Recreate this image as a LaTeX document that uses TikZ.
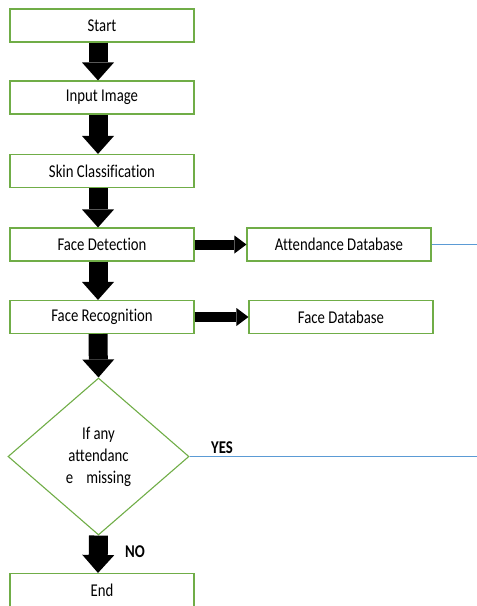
\documentclass[tikz,border=0pt]{standalone}
\usepackage{fontspec}
\setmainfont[FakeStretch=0.82,Ligatures=CommonOff]{Carlito}
\usetikzlibrary{arrows.meta,shapes.geometric}
\definecolor{boxgreen}{RGB}{112,173,71}
\definecolor{lineblue}{RGB}{91,155,213}

\begin{document}
\begin{tikzpicture}[x=1pt,y=-1pt,
    every node/.style={font=\fontsize{18}{22}\selectfont},
    stepbox/.style={draw=boxgreen,line width=1.1pt,minimum width=184pt,
                    minimum height=33pt,inner sep=0pt},
    decision/.style={diamond,draw=boxgreen,line width=1.1pt,minimum width=181pt,
                     minimum height=157pt,aspect=1.15,inner sep=0pt,align=center},
    tag/.style={font=\fontsize{18}{22}\selectfont\bfseries},
    bigarrow/.style={line width=19pt,-{Triangle[width=32pt,length=18pt,line width=0pt]}},
    sidearrow/.style={line width=10pt,-{Triangle[width=18pt,length=12pt,line width=0pt]}},
    link/.style={draw=lineblue,line width=0.9pt}]

\useasboundingbox (0,0) rectangle (477,606);

% main column
\node[stepbox] (start)  at (102,25.5)  {Start};
\node[stepbox] (input)  at (102,97.5)  {Input Image};
\node[stepbox] (skin)   at (102,171)   {Skin Classification};
\node[stepbox] (detect) at (102,244.5) {Face Detection};
\node[stepbox] (recog)  at (102,317)   {Face Recognition};
\node[decision] (check) at (98.5,456.5) {If any\\attendanc\\e\hspace{13pt}missing};
\node[stepbox] (end)    at (102,590)   {End};

% databases
\node[stepbox] (attdb)  at (339,244.5) {Attendance Database};
\node[stepbox] (facedb) at (341,317)   {Face Database};

\coordinate (edgeA) at (477,245);
\coordinate (edgeB) at (477,457);

\draw[bigarrow] ([xshift=-4pt]start.south)  -- ([xshift=-4pt]input.north);
\draw[bigarrow] ([xshift=-4pt]input.south)  -- ([xshift=-4pt]skin.north);
\draw[bigarrow] ([xshift=-4pt]skin.south)   -- ([xshift=-4pt]detect.north);
\draw[bigarrow] ([xshift=-4pt]detect.south) -- ([xshift=-4pt]recog.north);
\draw[bigarrow] ([xshift=-4pt]recog.south)  -- (check.north);
\draw[bigarrow] (check.south) -- ([xshift=-4pt]end.north);

\draw[sidearrow] (detect.east) -- (attdb.west);
\draw[sidearrow] (recog.east)  -- (facedb.west);

\draw[link] (attdb.east) -- (attdb.east -| edgeA);
\draw[link] (check.east) -- (check.east -| edgeB);

\node[tag] (yes) at (222,448) {YES};
\node[tag] (no)  at (135,552) {NO};

\end{tikzpicture}
\end{document}
